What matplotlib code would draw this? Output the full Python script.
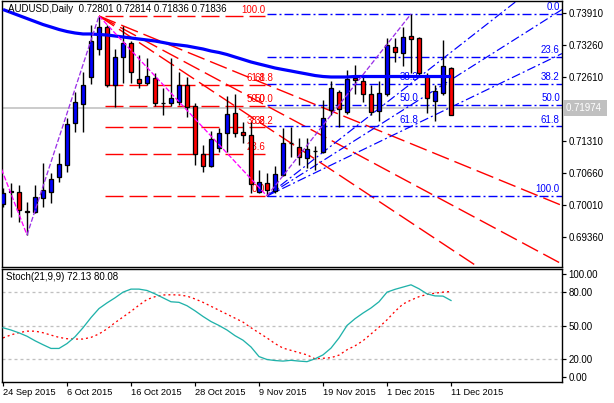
import matplotlib
matplotlib.use('Agg')
import matplotlib.pyplot as plt
import numpy as np
from matplotlib.transforms import blended_transform_factory

plt.rcParams['font.family'] = ['Liberation Sans', 'DejaVu Sans']
plt.rcParams['lines.scale_dashes'] = False

# ---------------- data ----------------
date_labels = ['24 Sep 2015', '6 Oct 2015', '16 Oct 2015', '28 Oct 2015',
               '9 Nov 2015', '19 Nov 2015', '1 Dec 2015', '11 Dec 2015']
date_label_bars = [0, 8, 16, 24, 32, 40, 48, 56]

opens = [0.70030, 0.70280, 0.70280, 0.69895, 0.69863, 0.70146, 0.70280, 0.70579, 0.70823, 0.71676,
         0.72061, 0.72610, 0.73179, 0.73626, 0.72447, 0.73016, 0.73301, 0.72569, 0.72488, 0.72590,
         0.72081, 0.72081, 0.72102, 0.72447, 0.72020, 0.71046, 0.70803, 0.71168, 0.71473, 0.71878,
         0.71493, 0.71432, 0.70274, 0.70457, 0.70294, 0.70620, 0.71269, 0.71188, 0.70965, 0.71107,
         0.71087, 0.71939, 0.72305, 0.71898, 0.72590, 0.72529, 0.72264, 0.71919, 0.72264, 0.73219,
         0.73097, 0.73443, 0.73402, 0.72630, 0.72122, 0.72285, 0.72801]
highs = [0.70355, 0.70457, 0.70416, 0.70077, 0.70416, 0.70864, 0.70660, 0.71066, 0.71777, 0.72305,
         0.72712, 0.73666, 0.73849, 0.73666, 0.73179, 0.73646, 0.73342, 0.73057, 0.72996, 0.72691,
         0.72386, 0.72996, 0.72712, 0.72610, 0.72081, 0.71229, 0.71513, 0.71574, 0.72224, 0.72264,
         0.71696, 0.71696, 0.70721, 0.70660, 0.70803, 0.71574, 0.71594, 0.71371, 0.71371, 0.71208,
         0.72142, 0.72529, 0.72346, 0.72752, 0.72854, 0.72610, 0.72447, 0.72529, 0.73402, 0.73402,
         0.73626, 0.73890, 0.73423, 0.72691, 0.72447, 0.73362, 0.72814]
lows = [0.69969, 0.69766, 0.69665, 0.69400, 0.69848, 0.69969, 0.70051, 0.70477, 0.70681, 0.71493,
        0.71493, 0.72468, 0.73057, 0.72407, 0.72000, 0.72488, 0.72488, 0.72386, 0.72447, 0.72020,
        0.71837, 0.72020, 0.72041, 0.71797, 0.70823, 0.70681, 0.70782, 0.71087, 0.71087, 0.71391,
        0.71269, 0.70254, 0.70254, 0.70193, 0.70254, 0.70599, 0.70985, 0.70823, 0.70762, 0.70721,
        0.71066, 0.71837, 0.71594, 0.71858, 0.72264, 0.72102, 0.71837, 0.71716, 0.72224, 0.72915,
        0.72834, 0.72691, 0.72651, 0.71878, 0.71716, 0.72244, 0.71836]
closes = [0.70254, 0.70290, 0.69908, 0.69863, 0.70179, 0.70315, 0.70538, 0.70843, 0.71655, 0.72102,
          0.72447, 0.73342, 0.73626, 0.72447, 0.73016, 0.73301, 0.72712, 0.72488, 0.72630, 0.72081,
          0.72076, 0.72183, 0.72447, 0.72000, 0.71046, 0.70803, 0.71351, 0.71473, 0.71858, 0.71473,
          0.71432, 0.70436, 0.70477, 0.70315, 0.70640, 0.71269, 0.71274, 0.70985, 0.71147, 0.71112,
          0.71777, 0.72386, 0.71959, 0.72569, 0.72549, 0.72264, 0.71898, 0.72285, 0.73260, 0.73118,
          0.73423, 0.73382, 0.72691, 0.72183, 0.72325, 0.72834, 0.71836]

ma_values = [0.73981, 0.73920, 0.73859, 0.73798, 0.73737, 0.73676, 0.73626, 0.73575, 0.73534, 0.73504,
             0.73484, 0.73484, 0.73473, 0.73463, 0.73443, 0.73423, 0.73402, 0.73382, 0.73362, 0.73341,
             0.73311, 0.73280, 0.73260, 0.73240, 0.73209, 0.73179, 0.73138, 0.73108, 0.73067, 0.73016,
             0.72966, 0.72915, 0.72874, 0.72834, 0.72793, 0.72762, 0.72732, 0.72701, 0.72671, 0.72640,
             0.72620, 0.72610, 0.72610, 0.72610, 0.72620, 0.72620, 0.72620, 0.72620, 0.72620, 0.72620,
             0.72620, 0.72620, 0.72620, 0.72620, 0.72620, 0.72620, 0.72620]

stoch_main = [48, 46, 43.5, 40.5, 36.5, 33, 29.7, 29.7, 34, 40,
              48, 57, 65, 70, 74.5, 79.5, 82.2, 82.2, 81, 78,
              74.5, 71, 70.5, 67.5, 63, 58, 53.5, 50, 46, 41,
              37, 31, 22.5, 19.9, 19, 18.5, 19.2, 18.5, 18, 20.5,
              24, 30, 39, 50, 56, 61, 65.5, 71, 79.5, 82,
              84, 86, 82.5, 78, 76.2, 76, 72.13]
stoch_signal = [39, 41.7, 43.7, 45, 45, 43.6, 41.5, 39.5, 38.3, 38,
                38, 39.5, 42.5, 47, 52.5, 57.5, 62.5, 68, 73, 75.5,
                77, 77.2, 77, 76, 73.5, 70.5, 67, 63.5, 60, 56.5,
                53, 48, 43.5, 39, 34, 30, 28, 26, 24, 20.5,
                21, 21.5, 23.8, 28.5, 32, 36.5, 42.5, 48.5, 55, 62.5,
                69, 72.5, 75.5, 77.5, 78.6, 79.5, 80.08]

zigzag_bars = [-2, 3, 12, 33, 51]
zigzag_prices = [0.71500, 0.69400, 0.73849, 0.70193, 0.73890]

fib_levels = [0.0, 23.6, 38.2, 50.0, 61.8, 100.0]
fan_levels = [38.2, 50.0, 61.8]
red_hi_bar, red_hi = 12, 0.73849
red_lo_bar, red_lo = 33, 0.70193
blue_lo_bar, blue_lo = 33, 0.70193
blue_hi_bar, blue_hi = 51, 0.73890

price_ticks = [0.73910, 0.73260, 0.72610, 0.71310, 0.70660, 0.70010, 0.69360]
current_price = 0.71974
stoch_tick_labels = ['0.00', '20.00', '50.00', '80.00', '100.00']
stoch_levels = [20, 50, 80]

# ---------------- layout ----------------
W, H = 614, 403
PX = 72.0 / 100.0   # points per pixel
FS = 7

fig = plt.figure(figsize=(W / 100, H / 100), dpi=100)
fig.patch.set_facecolor('white')


def rect(x0, y0, x1, y1):
    return [x0 / W, 1 - y1 / H, (x1 - x0) / W, (y1 - y0) / H]


ax = fig.add_axes(rect(2, 1, 562, 267))
axs = fig.add_axes(rect(2, 269, 562, 382))

XMIN, XMAX = -0.125, 69.875
YTOP, YBOT = 0.741538, 0.687507
ax.set_xlim(XMIN, XMAX)
ax.set_ylim(YBOT, YTOP)
axs.set_xlim(XMIN, XMAX)
axs.set_ylim(0, 100)

PPX = (YTOP - YBOT) / 266.0   # price per pixel

RED = '#FF0000'
BLUE = '#0000FF'
dash_red = (0, (18 * PX, 6 * PX))
dash_blue = (0, (9 * PX, 3 * PX, 2 * PX, 3 * PX))

# gray bid line
ax.axhline(current_price, color='#C0C0C0', lw=1.6 * PX, zorder=0.5)

# red fibo retracement
rng = red_hi - red_lo
for lv in fib_levels:
    p = red_lo + lv / 100 * rng
    ax.plot([12.75, 32.75], [p, p], color=RED, lw=1.4 * PX, ls=dash_red, zorder=1)
    ax.text(32.75, p + 1.5 * PPX, f'{lv:.1f}', color=RED, fontsize=FS, ha='right', va='bottom', zorder=1.2)
# red fan
for lv in fan_levels:
    target = red_lo + lv / 100 * rng
    xs = np.array([red_hi_bar, XMAX])
    ys = red_hi + (target - red_hi) * (xs - red_hi_bar) / (red_lo_bar - red_hi_bar)
    ax.plot(xs, ys, color=RED, lw=1.4 * PX, ls=dash_red, zorder=1)
    ax.text(33.75, target + 1.5 * PPX, f'{lv:.1f}', color=RED, fontsize=FS, ha='right', va='bottom', zorder=1.2)

# blue fibo retracement
brng = blue_hi - blue_lo
for lv in fib_levels:
    p = blue_hi - lv / 100 * brng
    ax.plot([blue_lo_bar, XMAX], [p, p], color=BLUE, lw=1.4 * PX, ls=dash_blue, zorder=1)
    ax.text(69.6, p + 1.5 * PPX, f'{lv:.1f}', color=BLUE, fontsize=FS, ha='right', va='bottom', zorder=1.2)
# blue fan
for lv in fan_levels:
    target = blue_hi - lv / 100 * brng
    xs = np.array([blue_lo_bar, XMAX])
    ys = blue_lo + (target - blue_lo) * (xs - blue_lo_bar) / (blue_hi_bar - blue_lo_bar)
    ax.plot(xs, ys, color=BLUE, lw=1.2 * PX, ls=dash_blue, zorder=1)
    ax.text(51.9, target + 1.5 * PPX, f'{lv:.1f}', color=BLUE, fontsize=FS, ha='right', va='bottom', zorder=1.2)

# candles
for i, (o, h, l, c) in enumerate(zip(opens, highs, lows, closes)):
    ax.plot([i, i], [l, h], color='black', lw=1.4 * PX, zorder=3, solid_capstyle='butt')
    if abs(c - o) < 0.00004:
        ax.plot([i - 0.31, i + 0.31], [o, o], color='black', lw=1.6 * PX, zorder=3.1)
    else:
        col = BLUE if c > o else RED
        ax.bar(i, abs(c - o), bottom=min(o, c), width=0.6, color=col,
               edgecolor='black', linewidth=1.3 * PX, zorder=3.1)

# moving average
ax.plot(np.arange(len(ma_values)), ma_values, color=BLUE, lw=3.2 * PX, zorder=4,
        solid_capstyle='butt', solid_joinstyle='round')

# zigzag
for k in range(len(zigzag_bars) - 1):
    up = zigzag_prices[k + 1] > zigzag_prices[k]
    ax.plot(zigzag_bars[k:k + 2], zigzag_prices[k:k + 2], color='#9B30E8' if up else '#FF00FF',
            lw=1.3 * PX, ls=(0, (5 * PX, 2 * PX)), zorder=4.5)

# axes styling main
for sp in ax.spines.values():
    sp.set_linewidth(1.4 * PX)
ax.set_xticks([])
ax.yaxis.tick_right()
ax.set_yticks(price_ticks)
ax.set_yticklabels([f'{v:.5f}' for v in price_ticks])
ax.tick_params(axis='y', direction='out', length=3 * PX * 1.4, width=1.2 * PX, pad=1.5, labelsize=FS)

# current price label
tr = blended_transform_factory(ax.transAxes, ax.transData)
ax.text(1.0 + 4 / 560, current_price, '0.71974 ', transform=tr, color='white', fontsize=FS,
        ha='left', va='center', clip_on=False,
        bbox=dict(facecolor='#C0C0C0', edgecolor='none', boxstyle='square,pad=0.3'))

fig.text(8 / W, 1 - 9.5 / H, 'AUDUSD,Daily  0.72801 0.72814 0.71836 0.71836', fontsize=FS,
         ha='left', va='center', color='black')

# ---------------- stochastic ----------------
for lv in stoch_levels:
    axs.axhline(lv, color='#C0C0C0', lw=1.3 * PX, ls=(0, (3 * PX, 3 * PX)), zorder=0.5)
xs = np.arange(len(stoch_main))
axs.plot(xs, stoch_main, color='#20B2AA', lw=1.3 * PX, zorder=3)
axs.plot(xs, stoch_signal, color=RED, lw=1.3 * PX, ls=(0, (2 * PX, 3 * PX)), zorder=2)
for sp in axs.spines.values():
    sp.set_linewidth(1.4 * PX)
axs.yaxis.tick_right()
axs.set_yticks([4.5, 20, 50, 80, 95.5])
axs.set_yticklabels(stoch_tick_labels)
axs.tick_params(axis='y', direction='out', length=3 * PX * 1.4, width=1.2 * PX, pad=1.5, labelsize=FS)
axs.set_xticks(date_label_bars)
axs.set_xticklabels(date_labels, ha='left')
axs.tick_params(axis='x', direction='out', length=4 * PX, width=1.2 * PX, pad=1.5, labelsize=6.7)
fig.text(6 / W, 1 - 277.5 / H, 'Stoch(21,9,9) 72.13 80.08', fontsize=FS, ha='left', va='center')

fig.savefig('out.png', dpi=100)
